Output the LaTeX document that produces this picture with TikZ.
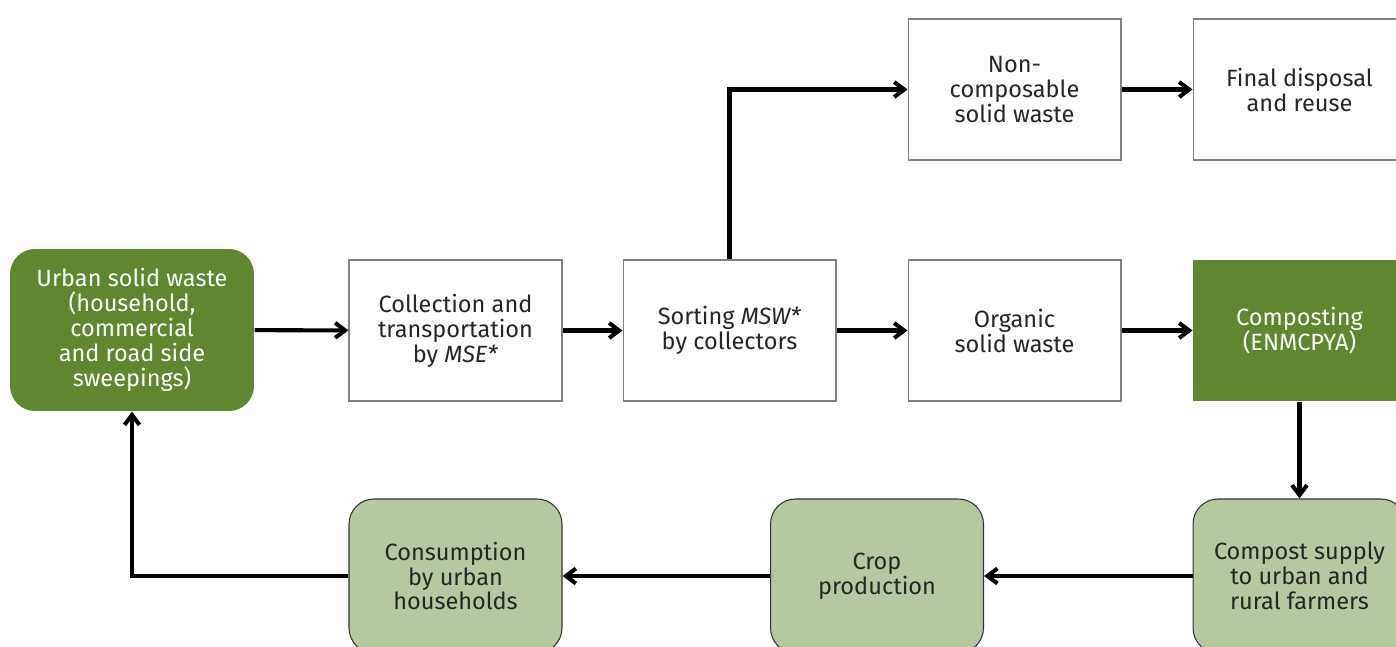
\documentclass[tikz,border=0pt]{standalone}
\usepackage{fontspec}
\setmainfont{Fira Sans}
\usetikzlibrary{arrows.meta,positioning}

\definecolor{leafgreen}{HTML}{5F8730}
\definecolor{palegreen}{HTML}{B6C89F}

\tikzset{
  box/.style={draw=black!50, line width=0.6pt, fill=white, minimum width=4.26cm,
    minimum height=2.82cm, align=center, inner sep=2pt,
    font=\fontsize{13.4}{14.2}\selectfont, text=black!85},
  greenbox/.style={box, draw=none, fill=leafgreen, text=white},
  softbox/.style={box, draw=black!80, fill=palegreen, rounded corners=0.5cm, minimum height=3.08cm},
  flow/.style={line width=2.3pt, -{Straight Barb[length=0.2cm,width=0.3cm]}}
}

\begin{document}
\begin{tikzpicture}[x=0.02cm,y=-0.02cm]

\useasboundingbox (0,0) rectangle (1396,646);
\clip (0,0) rectangle (1396,646);

\node[greenbox, rounded corners=0.5cm, minimum width=4.88cm, minimum height=3.24cm] (usw) at (132,330)
  {Urban solid waste\\(household,\\commercial\\and road side\\sweepings)};
\node[box] (collect) at (455.5,330.5){Collection and\\transportation\\by \textit{MSE*}};
\node[box] (sort) at (729.5,330.5){Sorting \textit{MSW*}\\by collectors};
\node[box] (organic) at (1014.5,330.5){Organic\\solid waste};
\node[greenbox] (compost) at (1299.5,330.5){Composting\\(ENMCPYA)};
\node[box] (noncomp) at (1014.5,89.5){Non-\\composable\\solid waste};
\node[box] (final) at (1299.5,89.5){Final disposal\\and reuse};
\node[softbox] (supply) at (1299.5,576){Compost supply\\to urban and\\rural farmers};
\node[softbox] (crop) at (877,576){Crop\\production};
\node[softbox] (consume) at (455.5,576){Consumption\\by urban\\households};

\draw[flow] (usw) -- (collect);
\draw[flow] (collect) -- (sort);
\draw[flow] (sort) -- (organic);
\draw[flow] (organic) -- (compost);
\draw[flow] (sort.north) |- (noncomp.west);
\draw[flow] (noncomp) -- (final);
\draw[flow] (compost) -- (supply);
\draw[flow] (supply) -- (crop);
\draw[flow] (crop) -- (consume);
\draw[flow] (consume.west) -| (usw.south);

\end{tikzpicture}
\end{document}
